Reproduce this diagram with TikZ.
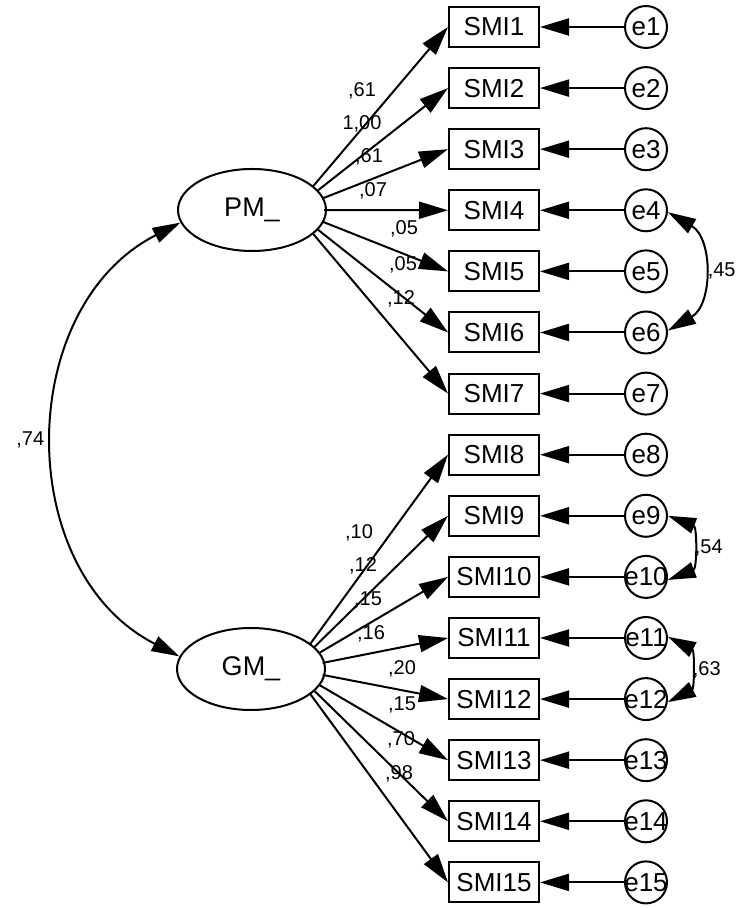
\documentclass[tikz,border=0pt]{standalone}
\usepackage{fontspec}
\setmainfont{Liberation Sans}
\usetikzlibrary{
  arrows.meta,
  positioning,
  shapes.geometric
}
\tikzset{
  indicator/.style={draw,line width=2pt,minimum width=90pt,minimum height=40pt,inner sep=2pt,font=\fontsize{26}{30}\selectfont},
  errorterm/.style={draw,circle,line width=2pt,minimum size=42pt,inner sep=0pt,font=\fontsize{26}{30}\selectfont},
  latent/.style={draw,ellipse,line width=2pt,minimum width=148pt,minimum height=82pt,inner sep=0pt,font=\fontsize{27}{32}\selectfont},
  hub/.style={circle,minimum size=62pt,inner sep=0pt},
  estimate/.style={font=\fontsize{20}{24}\selectfont,inner sep=1pt},
  loading/.style={-{Triangle[length=29pt,width=17pt]},line width=2pt},
  residual/.style={-{Triangle[length=29pt,width=17pt]},line width=2pt},
  covar/.style={{Triangle[length=28pt,width=16pt]}-{Triangle[length=28pt,width=16pt]},line width=2pt}
}

\begin{document}
\begin{tikzpicture}[x=1pt,y=1pt]
\useasboundingbox (0,0) rectangle (738,908);
% latent factors
\node[latent] (pm) at (252,698) {PM\_};
\node[latent] (gm) at (251,239) {GM\_};
\node[hub] (pmhub) at (293,698) {};
\node[hub] (gmhub) at (292,239) {};

% items and their error terms
\foreach \i in {1,...,15}{
  \node[indicator] (s\i) at (494,{881-(\i-1)*61.1}) {SMI\i};
  \node[errorterm, right=84pt of s\i] (e\i) {\makebox[0pt]{e\i}};
  \draw[residual] (e\i) -- (s\i);
}
\foreach \i in {1,...,7} \draw[loading] (pmhub) -- (s\i.west);
\foreach \i in {8,...,15} \draw[loading] (gmhub) -- (s\i.west);

% loadings
\node[estimate] (w1) at (362,817) {,61};
\node[estimate] (w2) at (362,784) {1,00};
\node[estimate] (w3) at (369,751) {,61};
\node[estimate] (w4) at (373,717) {,07};
\node[estimate] (w5) at (404,679) {,05};
\node[estimate] (w6) at (403,643) {,05};
\node[estimate] (w7) at (401,609) {,12};
\node[estimate] (w8) at (359,375) {,10};
\node[estimate] (w9) at (363,342) {,12};
\node[estimate] (w10) at (368,308) {,15};
\node[estimate] (w11) at (371,274) {,16};
\node[estimate] (w12) at (402,239) {,20};
\node[estimate] (w13) at (402,203) {,15};
\node[estimate] (w14) at (401,168) {,70};
\node[estimate] (w15) at (399,134) {,98};

% covariances
\draw[covar] (pm.190) to[out=207,in=153,looseness=1.1] node[estimate,left=9pt]{,74} (gm.170);
\draw[covar] (e4.-5) to[out=-30,in=30,looseness=1.13] node[estimate,right=4pt]{,45} (e6.5);
\draw[covar] (e9.0) to[out=-21,in=21,looseness=1.25] node[estimate,right=3pt]{,54} (e10.-8);
\draw[covar] (e11.3) to[out=-27,in=27,looseness=1.17] node[estimate,right=3pt]{,63} (e12.-8);
\end{tikzpicture}
\end{document}
